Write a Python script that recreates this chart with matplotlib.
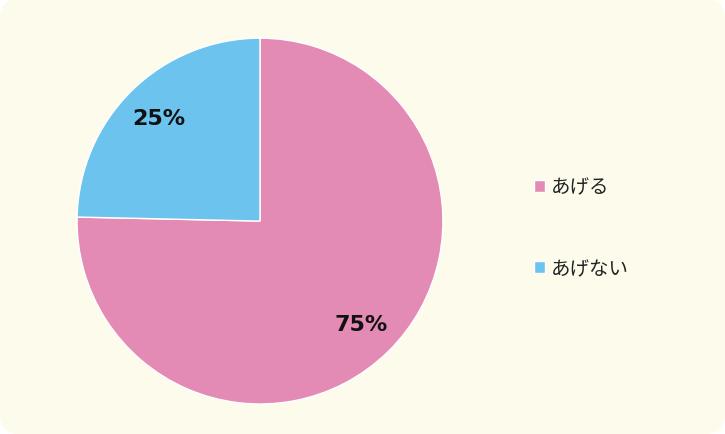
import matplotlib
matplotlib.use("Agg")
import matplotlib.pyplot as plt
from matplotlib.patches import FancyBboxPatch

labels = ['あげる', 'あげない']
values = [75.35, 24.65]
colors = ['#E48BB5', '#6CC3EE']

plt.rcParams['font.family'] = ['Noto Sans CJK JP', 'DejaVu Sans']

fig = plt.figure(figsize=(7.25, 4.35), dpi=100)
fig.patch.set_facecolor('white')

# rounded cream background, behind the axes
bg = FancyBboxPatch((0, 0), 725, 435, boxstyle='round,pad=0,rounding_size=20',
                    transform=None, facecolor='#FDFBEC', edgecolor='none',
                    zorder=-10)
fig.patches.append(bg)

ax = fig.add_axes([0.1062, 0.069, 0.5048, 0.841])
ax.set_zorder(1)
wedges, texts, autotexts = ax.pie(
    values, colors=colors, startangle=90, counterclock=False,
    autopct='%.0f%%', pctdistance=0.79,
    wedgeprops=dict(edgecolor='white', linewidth=1),
    textprops=dict(fontsize=16, fontweight='bold', color='#111111',
                   family='DejaVu Sans'))
ax.set_xlim(-1, 1)
ax.set_ylim(-1, 1)
ax.set_aspect('equal')

leg = fig.legend(wedges, labels, loc='upper left',
                 bbox_to_anchor=(0.712, 0.632), frameon=False,
                 fontsize=14, handlelength=0.57, handleheight=0.57,
                 handletextpad=0.33, labelspacing=3.1)
leg.set_zorder(2)
for t in leg.get_texts():
    t.set_color('#222222')

fig.savefig('out.png', dpi=100)
